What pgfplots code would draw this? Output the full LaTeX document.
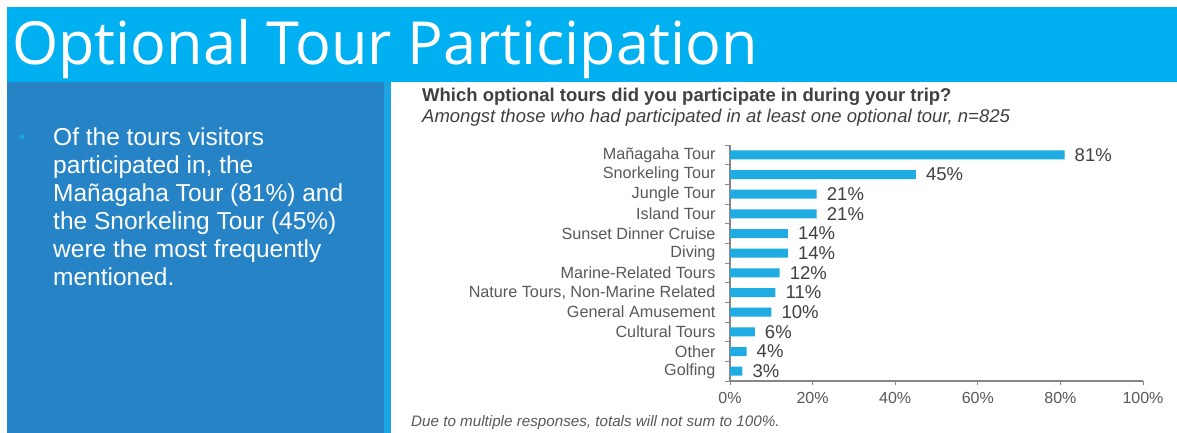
\documentclass[border=0pt]{standalone}
\usepackage{fontspec}
\setmainfont{Liberation Sans}
\newfontfamily\titlefont{Open Sans}
\usepackage{pgfplots}
\pgfplotsset{compat=1.18}
\definecolor{banner}{HTML}{00B0F0}
\definecolor{panel}{HTML}{2683C6}
\definecolor{strip}{HTML}{1BA5E0}
\definecolor{barc}{HTML}{1FACE3}
\definecolor{axisgray}{HTML}{868686}
\definecolor{labgray}{HTML}{595959}
\definecolor{valgray}{HTML}{404040}
\begin{document}
\begin{tikzpicture}
\useasboundingbox (0bp,0bp) rectangle (1177bp,433bp);
\fill[white] (0bp,0bp) rectangle (1177bp,433bp);
\fill[banner] (7bp,351bp) rectangle (1177bp,426bp);
\fill[panel] (7bp,0bp) rectangle (384bp,351bp);
\fill[strip] (384bp,0bp) rectangle (391bp,351bp);
\node[anchor=base west, inner sep=0pt, text=white, font=\titlefont\fontsize{59.4bp}{60bp}\selectfont] at (12bp,368bp) {Optional Tour Participation};
\fill[strip] (22bp,296bp) circle (2.5bp);
\begin{scope}[every node/.style={anchor=base west, inner sep=0pt, text=white, font=\fontsize{24.5bp}{28bp}\selectfont}]
\node at (53bp,287bp) {Of the tours visitors};
\node at (53bp,259bp) {participated in, the};
\node at (53bp,231bp) {Mañagaha Tour (81\%) and};
\node at (53bp,203bp) {the Snorkeling Tour (45\%)};
\node at (53bp,175bp) {were the most frequently};
\node at (53bp,147bp) {mentioned.};
\end{scope}
\node[anchor=base west, inner sep=0pt, text=valgray, font=\bfseries\fontsize{18.5bp}{20bp}\selectfont] at (422bp,331bp) {Which optional tours did you participate in during your trip?};
\node[anchor=base west, inner sep=0pt, text=valgray, font=\itshape\fontsize{18.5bp}{20bp}\selectfont] at (422bp,310bp) {Amongst those who had participated in at least one optional tour, n=825};
\node[anchor=base west, inner sep=0pt, text=labgray, font=\itshape\fontsize{15.2bp}{17bp}\selectfont] at (411bp,7bp) {Due to multiple responses, totals will not sum to 100\%.};
\begin{axis}[
  at={(730bp,52bp)}, anchor=south west,
  scale only axis, width=413bp, height=236bp,
  xbar, bar width=9bp,
  xmin=0, xmax=100, ymin=-0.5, ymax=11.5, y dir=reverse,
  /pgf/number format/assume math mode=true,
  axis x line*=bottom, axis y line*=left,
  axis line style={axisgray, line width=1.2bp},
  xtick={0,20,40,60,80,100},
  xticklabel={\pgfmathprintnumber{\tick}\%},
  xticklabel style={font=\fontsize{16bp}{18bp}\selectfont, text=labgray, yshift=-4bp},
  ytick={0,1,2,3,4,5,6,7,8,9,10,11},
  yticklabels={Mañagaha Tour, Snorkeling Tour, Jungle Tour, Island Tour, Sunset Dinner Cruise, Diving, Marine-Related Tours, {Nature Tours, Non-Marine Related}, General Amusement, Cultural Tours, Other, Golfing},
  yticklabel style={font=\fontsize{16.2bp}{18bp}\selectfont, text=labgray, xshift=-7bp},
  minor ytick={-0.5,0.5,1.5,2.5,3.5,4.5,5.5,6.5,7.5,8.5,9.5,10.5,11.5},
  tick align=outside,
  major tick length=4bp, minor tick length=5bp,
  major y tick style={draw=none},
  every tick/.style={axisgray, line width=1bp},
  nodes near coords={\pgfmathprintnumber{\pgfplotspointmeta}\%},
  point meta=x,
  nodes near coords style={font=\fontsize{18.5bp}{20bp}\selectfont, text=valgray, anchor=west, inner sep=0pt, xshift=10bp},
  clip=false,
]
\addplot[fill=barc, draw=none] coordinates {(81,0) (45,1) (21,2) (21,3) (14,4) (14,5) (12,6) (11,7) (10,8) (6,9) (4,10) (3,11)};
\end{axis}
\end{tikzpicture}
\end{document}
